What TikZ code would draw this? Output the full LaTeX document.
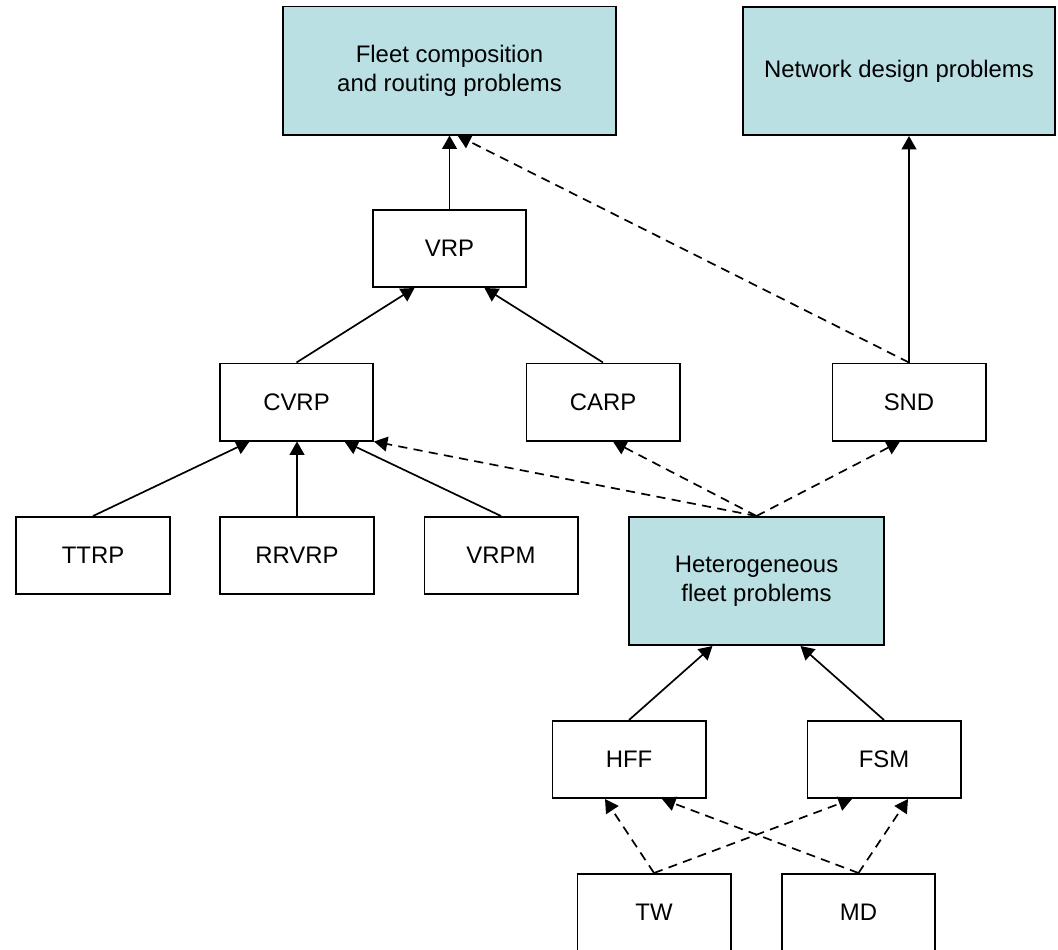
\documentclass[tikz,border=0pt]{standalone}
\usepackage{fontspec}
\setmainfont{Liberation Sans}
\usetikzlibrary{arrows.meta, calc}
\definecolor{probblue}{RGB}{186,224,227}
\tikzset{>={Triangle[length=9.5pt,width=10.5pt]}}
\tikzset{box/.style={draw, line width=1.4pt, minimum width=3.825cm, minimum height=1.925cm,
    font=\fontsize{17}{20.5}\selectfont, align=center, inner sep=0pt},
  bigbox/.style={box, fill=probblue, minimum height=3.2cm},
  link/.style={->, line width=1.2pt},
  dlink/.style={->, line width=1.2pt, dash pattern=on 6.5pt off 4.5pt}}

\begin{document}
\begin{tikzpicture}[x=0.025cm, y=-0.025cm]
\clip (0,0) rectangle (1058,949);
% top level
\node[bigbox, minimum width=8.325cm] (fleet) at (449.5,70.5) {Fleet composition\\and routing problems};
\node[bigbox, minimum width=7.8cm] (network) at (899,71) {Network design problems};
% routing problems
\node[box] (vrp) at (449.5,248.5) {VRP};
\node[box] (cvrp) at (296.5,402) {CVRP};
\node[box] (carp) at (603,402) {CARP};
\node[box] (snd) at (909,402) {SND};
\node[box] (ttrp) at (93,555.5) {TTRP};
\node[box] (rrvrp) at (297,555.5) {RRVRP};
\node[box] (vrpm) at (501,555.5) {VRPM};
% heterogeneous fleet
\node[bigbox, minimum width=6.375cm] (hetero) at (756.5,581) {Heterogeneous\\fleet problems};
\node[box] (hff) at (629,759.5) {HFF};
\node[box] (fsm) at (884,759.5) {FSM};
\node[box] (tw) at (654,912.5) {TW};
\node[box] (md) at (858.5,912.5) {MD};

\draw[link] (vrp.north) -- (fleet.south);
\draw[link] (snd.north) -- (snd.north |- network.south);
\draw[dlink] (snd.north) -- ($(fleet.south)+(8,0)$);
\draw[link] (cvrp.north) -- ($(vrp.south)+(-35,0)$);
\draw[link] (carp.north) -- ($(vrp.south)+(35,0)$);
\draw[link] (ttrp.north) -- ($(cvrp.south)+(-47,0)$);
\draw[link] (rrvrp.north) -- (rrvrp.north |- cvrp.south);
\draw[link] (vrpm.north) -- ($(cvrp.south)+(48,0)$);
\draw[dlink] (hetero.north) -- (cvrp.south east);
\draw[dlink] (hetero.north) -- ($(carp.south)+(10,0)$);
\draw[dlink] (hetero.north) -- ($(snd.south)+(-9,0)$);
\draw[link] (hff.north) -- ($(hetero.south)+(-44,0)$);
\draw[link] (fsm.north) -- ($(hetero.south)+(44,0)$);
\draw[dlink] (tw.north) -- ($(hff.south)+(-24,0)$);
\draw[dlink] (tw.north) -- ($(fsm.south)+(-32,0)$);
\draw[dlink] (md.north) -- ($(hff.south)+(33,0)$);
\draw[dlink] (md.north) -- ($(fsm.south)+(24,0)$);
\end{tikzpicture}
\end{document}
